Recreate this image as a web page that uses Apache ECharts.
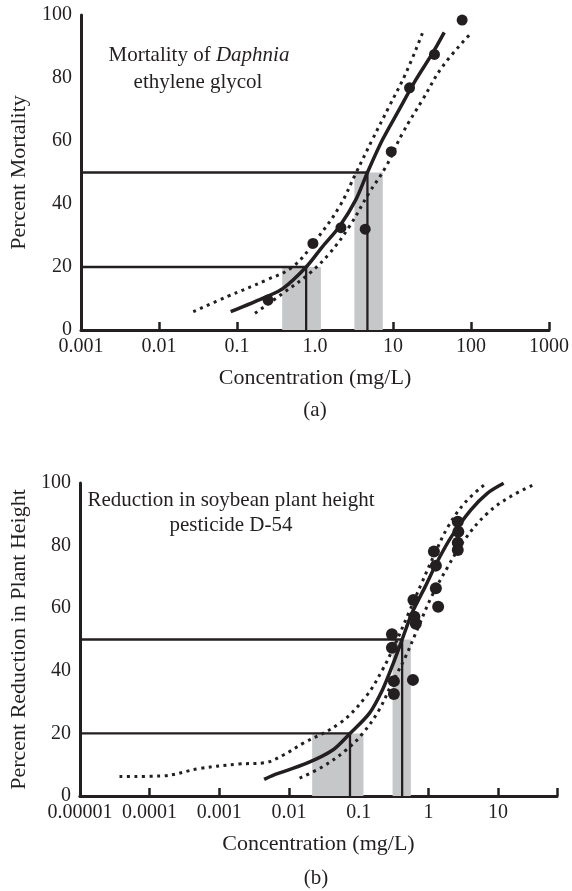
<!DOCTYPE html>
<html>
<head>
<meta charset="utf-8">
<script src="https://cdn.jsdelivr.net/npm/echarts@6/dist/echarts.min.js"></script>
<style>
    html, body {margin: 0; padding: 0; background: #fff;}
    #main {width: 572px; height: 891px;}
</style>
</head>
<body>
<div id="main"></div>
<script>
// (a) Daphnia / ethylene glycol
var tickLabelsA = ['0.001', '0.01', '0.1', '1.0', '10', '100', '1000'];
var concA = [0.25, 0.94, 2.15, 4.4, 9.5, 16.3, 34, 77];
var mortA = [9.5, 27.5, 32.5, 32, 56.6, 76.9, 87.5, 98.4];
var fitAx = [0.083, 0.24, 0.39, 0.77, 1.25, 2.05, 3.33, 4.7, 7.3, 11.9, 19.5, 32, 45.4];
var fitAy = [5.8, 10.6, 13.2, 20, 26.5, 32.8, 41.3, 50, 60.3, 69.8, 79.3, 87.8, 94.5];
var upperAx = [0.0275, 0.075, 0.24, 0.52, 1.03, 2.05, 3.33, 5.4, 8.9, 14.6, 23.8];
var upperAy = [5.8, 10.6, 15.9, 20.1, 28.6, 39.1, 49.7, 60.3, 70.9, 81.5, 94.2];
var lowerAx = [0.17, 0.39, 0.85, 1.53, 2.75, 4.9, 8.1, 13.2, 23.8, 43, 95.5];
var lowerAy = [5.3, 11.7, 18, 24.3, 32.8, 43.4, 51.8, 62.4, 73, 83.6, 93.7];
var ecA = [0.77, 4.7];          // EC20, EC50
var bandA = [[0.38, 1.19], [3.2, 7.4]];

// (b) soybean / pesticide D-54
var tickLabelsB = ['0.00001', '0.0001', '0.001', '0.01', '0.1', '1', '10'];
var concB = [2.64, 2.69, 2.64, 2.64, 1.2, 1.28, 1.28, 1.38, 0.61, 0.63, 0.66, 0.30, 0.30, 0.32, 0.32, 0.60];
var reducB = [87.6, 84.4, 80.9, 78.6, 78.1, 73.6, 66.4, 60.5, 62.6, 57.3, 55, 51.7, 47.4, 36.7, 32.6, 37.1];
var fitBx = [0.0044, 0.006, 0.0177, 0.0425, 0.075, 0.142, 0.219, 0.30, 0.42, 0.58, 0.90, 1.38, 2.13, 4.07, 7.0, 12];
var fitBy = [5.3, 6.7, 10.4, 14.7, 20, 26.4, 33.9, 41.3, 50, 58.4, 66.9, 75.4, 82.8, 91.4, 96.7, 99.9];
var upperBx = [0.000037, 0.000146, 0.00053, 0.0019, 0.0044, 0.0083, 0.0158, 0.053, 0.126, 0.219, 0.337, 0.52, 0.8, 1.24, 1.91, 3.28, 6.3];
var upperBy = [6.2, 6.4, 8.8, 10.2, 10.6, 13.1, 16.8, 23.2, 31.7, 40.3, 48.8, 58.4, 68, 77.5, 86, 93.5, 99.4];
var lowerBx = [0.0142, 0.0306, 0.066, 0.114, 0.196, 0.30, 0.47, 0.72, 1.11, 1.91, 3.28, 7.0, 14.9, 32];
var lowerBy = [5.7, 9.4, 14.7, 20, 27.5, 36, 44.5, 54.1, 63.7, 73.3, 81.8, 90.3, 95.6, 99.4];
var ecB = [0.075, 0.42];
var bandB = [[0.0215, 0.117], [0.306, 0.56]];

var ecLevels = [20, 50];
var ink = '#231f20';
var grey = '#c6c7c9';
var serif = '"Liberation Serif", "Times New Roman", serif';

function pairs(xs, ys) {
    return xs.map(function (x, i) {
        return [x, ys[i]];
    });
}

// only label whole decades, blank for the axis end tick
function decadeLabel(labels, firstExp) {
    return function (v) {
        var e = Math.log10(v);
        var r = Math.round(e);
        if (Math.abs(e - r) > 1e-6) return '';
        return labels[r - firstExp] || '';
    };
}

function xAxisFor(idx, min, max, labels, firstExp) {
    return {
        type: 'log', gridIndex: idx, min: min, max: max,
        name: 'Concentration (mg/L)', nameLocation: 'middle', nameGap: 37,
        nameTextStyle: {fontFamily: serif, fontSize: 22, color: ink},
        axisLine: {lineStyle: {color: ink, width: 3}},
        axisTick: {show: true, inside: true, length: 8, lineStyle: {color: ink, width: 2.5}},
        axisLabel: {formatter: decadeLabel(labels, firstExp), fontFamily: serif, fontSize: 20, color: ink, margin: 7},
        splitLine: {show: false}
    };
}

function yAxisFor(idx, name, gap) {
    return {
        type: 'value', gridIndex: idx, min: 0, max: 100, interval: 20,
        name: name, nameLocation: 'middle', nameGap: gap,
        nameTextStyle: {fontFamily: serif, fontSize: 22, color: ink},
        axisLine: {show: true, lineStyle: {color: ink, width: 3}},
        axisTick: {show: false},
        axisLabel: {fontFamily: serif, fontSize: 20, color: ink, margin: 9},
        splitLine: {show: false}
    };
}

function panelSeries(idx, xMin, pts, fit, upper, lower, ec, bands) {
    var dotted = {color: ink, width: 3, type: [3, 4.5], cap: 'butt'};
    var list = [];
    ec.forEach(function (x, i) {
        var lvl = ecLevels[i];
        list.push({
            type: 'line', xAxisIndex: idx, yAxisIndex: idx, z: 3,
            data: [[xMin, lvl], [x, lvl], [x, 0]],
            symbol: 'none', lineStyle: {color: ink, width: 2.3},
            markArea: {
                silent: true,
                itemStyle: {color: grey, opacity: 1},
                data: [[{coord: [bands[i][0], 0]}, {coord: [bands[i][1], lvl]}]]
            }
        });
    });
    list.push({
        type: 'line', xAxisIndex: idx, yAxisIndex: idx, z: 4,
        data: upper, symbol: 'none', smooth: 0.4, lineStyle: dotted
    });
    list.push({
        type: 'line', xAxisIndex: idx, yAxisIndex: idx, z: 4,
        data: lower, symbol: 'none', smooth: 0.4, lineStyle: dotted
    });
    list.push({
        type: 'line', xAxisIndex: idx, yAxisIndex: idx, z: 5,
        data: fit, symbol: 'none', smooth: 0.3,
        lineStyle: {color: ink, width: 3.5}
    });
    list.push({
        type: 'scatter', xAxisIndex: idx, yAxisIndex: idx, z: 6,
        data: pts, symbolSize: idx === 0 ? 11 : 12,
        itemStyle: {color: ink, opacity: 1}
    });
    return list;
}

var myChart = echarts.init(document.getElementById('main'));

var series = [].concat(
    panelSeries(0, 0.001, pairs(concA, mortA), pairs(fitAx, fitAy), pairs(upperAx, upperAy),
        pairs(lowerAx, lowerAy), ecA, bandA),
    panelSeries(1, 0.00001, pairs(concB, reducB), pairs(fitBx, fitBy), pairs(upperBx, upperBy),
        pairs(lowerBx, lowerBy), ecB, bandB)
);

var textStyle = {textAlign: 'center', textVerticalAlign: 'middle', font: '21px ' + serif, fill: ink};
function label(x, y, text) {
    return {type: 'text', style: echarts.util.extend({x: x, y: y, text: text}, textStyle)};
}

myChart.setOption({
    animation: false,
    backgroundColor: '#fff',
    grid: [
        {left: 80, top: 15, width: 471, height: 315},
        {left: 76, top: 483, width: 481, height: 313}
    ],
    xAxis: [
        xAxisFor(0, 0.001, 1000, tickLabelsA, -3),
        xAxisFor(1, 0.00001, 70, tickLabelsB, -5)
    ],
    yAxis: [
        yAxisFor(0, 'Percent Mortality', 51),
        yAxisFor(1, 'Percent Reduction in Plant Height', 43)
    ],
    graphic: [
        {
            type: 'text', style: {
                x: 199, y: 55, text: '{n|Mortality of }{i|Daphnia}',
                textAlign: 'center', textVerticalAlign: 'middle',
                rich: {
                    n: {fontFamily: serif, fontSize: 21, fill: ink},
                    i: {fontFamily: serif, fontSize: 21, fontStyle: 'italic', fill: ink}
                }
            }
        },
        label(198, 82, 'ethylene glycol'),
        label(315, 410, '(a)'),
        label(231, 500, 'Reduction in soybean plant height'),
        label(231, 525, 'pesticide D-54'),
        label(316, 878, '(b)')
    ],
    series: series
});
</script>
</body>
</html>
